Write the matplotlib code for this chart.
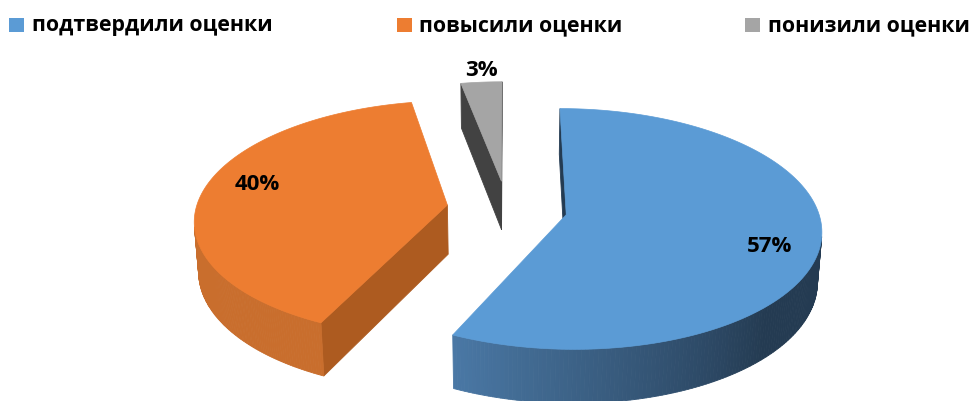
import numpy as np
import matplotlib
matplotlib.use("Agg")
import matplotlib.pyplot as plt
from matplotlib.colors import to_rgb
from matplotlib.patches import Rectangle

categories = ["подтвердили оценки", "повысили оценки", "понизили оценки"]
values = [57, 40, 3]
labels = ["57%", "40%", "3%"]
top_colors = ["#5B9BD5", "#ED7D31", "#A5A5A5"]
wall_light = ["#4a78a5", "#c96e2d", "#6a6a6a"]
wall_dark = ["#243b52", "#a95a22", "#3c3c3c"]
cut_colors = ["#243b52", "#ad5b20", "#424242"]

plt.rcParams['font.family'] = ['Open Sans', 'DejaVu Sans']

fig = plt.figure(figsize=(9.74, 4.01), dpi=100)
ax = fig.add_axes([0, 0, 1, 1])
ax.set_xlim(0, 974)
ax.set_ylim(401, 0)
ax.axis("off")

# 3D camera
elev = np.radians(27.8)
se, ce = np.sin(elev), np.cos(elev)
D = 7.5
F = 1885.0
sx, sy = 507.0, 208.5
H = 0.225
EXPL = 0.24
cam = np.array([0.0, -D * ce, D * se])

def proj(u, v, z):
    X = u
    Y = v * se + z * ce
    Zc = D + v * ce - z * se
    return sx + F * X / Zc, sy - F * Y / Zc

def visible(normal, point):
    return np.dot(normal, cam - np.array(point)) > 0

def mix(c1, c2, f):
    a, b = np.array(to_rgb(c1)), np.array(to_rgb(c2))
    f = min(max(f, 0.0), 1.0)
    return tuple(a + (b - a) * f)

def poly3(pts, col, lw=0.6):
    xy = [proj(*p) for p in pts]
    ax.add_patch(plt.Polygon(xy, closed=True, fc=col, ec=col, lw=lw))

total = float(sum(values))
start = 90.0
slices = []
for i, v in enumerate(values):
    span = v / total * 360.0
    slices.append((i, start, start - span))
    start -= span

wall_range = {0: (-115.0, -45.0), 1: (180.0, 245.0), 2: (90.0, 101.0)}

for i, ta, tb in [slices[2], slices[1], slices[0]]:
    mid = np.radians((ta + tb) / 2)
    cu, cv = EXPL * np.cos(mid), EXPL * np.sin(mid)
    # cut faces
    for te, sign in [(ta, +1), (tb, -1)]:
        r = np.radians(te)
        nr = np.radians(te + 90 * sign)
        n = np.array([np.cos(nr), np.sin(nr), 0.0])
        pu, pv = cu + np.cos(r), cv + np.sin(r)
        midp = ((cu + pu) / 2, (cv + pv) / 2, -H / 2)
        if visible(n, midp):
            poly3([(cu, cv, 0), (pu, pv, 0), (pu, pv, -H), (cu, cv, -H)], cut_colors[i])
    # outer wall
    lo, hi = min(ta, tb), max(ta, tb)
    ts = np.linspace(lo, hi, 240)
    wl, wh = wall_range[i]
    for k in range(len(ts) - 1):
        tm = np.radians((ts[k] + ts[k + 1]) / 2)
        n = np.array([np.cos(tm), np.sin(tm), 0.0])
        pm = (cu + np.cos(tm), cv + np.sin(tm), -H / 2)
        if not visible(n, pm):
            continue
        f = (np.degrees(tm) - wl) / (wh - wl)
        col = mix(wall_light[i], wall_dark[i], f)
        r1, r2 = np.radians(ts[k]), np.radians(ts[k + 1])
        p1 = (cu + np.cos(r1), cv + np.sin(r1))
        p2 = (cu + np.cos(r2), cv + np.sin(r2))
        poly3([(p1[0], p1[1], 0), (p2[0], p2[1], 0), (p2[0], p2[1], -H), (p1[0], p1[1], -H)], col)
    # top face
    tt = np.radians(np.linspace(ta, tb, 240))
    pts = [(cu, cv, 0)] + [(cu + np.cos(t), cv + np.sin(t), 0) for t in tt]
    poly3(pts, top_colors[i], lw=0.5)

label_pos = {0: (770, 247), 1: (257, 185), 2: (481, 70)}
for i in range(3):
    x, y = label_pos[i]
    ax.text(x, y, labels[i], ha="center", va="center", fontsize=16, fontweight="bold", color="black")

leg_sq = [9, 397, 745]
leg_tx = [32, 419, 768]
for i in range(3):
    ax.add_patch(Rectangle((leg_sq[i], 18), 15, 14, fc=top_colors[i], ec="none"))
    ax.text(leg_tx[i], 26, categories[i], ha="left", va="center", fontsize=15.4,
            fontweight="bold", color="black")

fig.savefig("out.png", dpi=100)
